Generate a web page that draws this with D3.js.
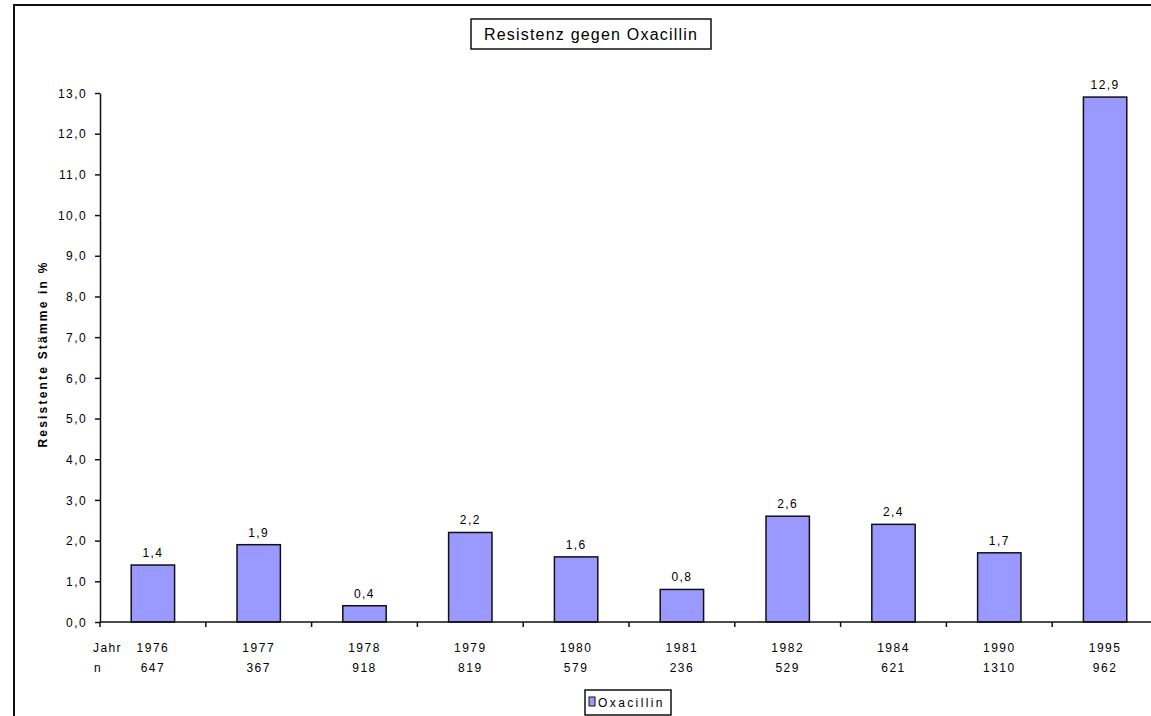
<!DOCTYPE html>
<html>
<head>
<meta charset="utf-8">
<script src="https://cdn.jsdelivr.net/npm/d3@7"></script>
<style>
  html, body { margin: 0; padding: 0; background: #fff; overflow: hidden; }
  text { font-family: "Liberation Sans", Arial, sans-serif; fill: #000; }
</style>
</head>
<body>
<svg id="chart" width="1151" height="716"></svg>
<script>
// Oxacillin resistance by year (percentage of resistant strains)
const years   = ["1976", "1977", "1978", "1979", "1980", "1981", "1982", "1984", "1990", "1995"];
const counts  = ["647", "367", "918", "819", "579", "236", "529", "621", "1310", "962"];
const values  = [1.4, 1.9, 0.4, 2.2, 1.6, 0.8, 2.6, 2.4, 1.7, 12.9];
const yTicks  = [0, 1, 2, 3, 4, 5, 6, 7, 8, 9, 10, 11, 12, 13];

const title      = "Resistenz gegen Oxacillin";
const yTitle     = "Resistente Stämme in %";
const seriesName = "Oxacillin";
const barColor   = "#9999ff";

const svg = d3.select("#chart");
const plot = { left: 100, right: 1158, top: 93, bottom: 622 };

// Outer chart frame
svg.append("rect")
  .attr("x", 14).attr("y", 5)
  .attr("width", 1200).attr("height", 800)
  .attr("fill", "none").attr("stroke", "#111").attr("stroke-width", 2);

const x = d3.scaleBand()
  .domain(years)
  .range([plot.left, plot.right])
  .paddingInner(0.59).paddingOuter(0.295);

const y = d3.scaleLinear()
  .domain([0, 13])
  .range([plot.bottom, plot.top]);

const fmt = v => d3.format(".1f")(v).replace(".", ",");

// Y axis
const yAxis = svg.append("g")
  .attr("transform", `translate(${plot.left},0)`)
  .call(d3.axisLeft(y).tickValues(yTicks).tickFormat(fmt).tickSize(5).tickPadding(8).tickSizeOuter(0));
yAxis.select(".domain").attr("stroke", "#111").attr("stroke-width", 1.5);
yAxis.selectAll(".tick line").attr("stroke", "#111").attr("stroke-width", 1.5);
yAxis.selectAll(".tick text")
  .style("font-size", "12px").style("letter-spacing", "1.4px")
  .attr("dy", "0.35em");

// Bars
svg.append("g").selectAll("rect")
  .data(values)
  .join("rect")
  .attr("x", (d, i) => x(years[i]))
  .attr("y", d => y(d))
  .attr("width", x.bandwidth())
  .attr("height", d => y(0) - y(d))
  .attr("fill", barColor)
  .attr("stroke", "#111")
  .attr("stroke-width", 1.5);

// Value labels
svg.append("g").selectAll("text")
  .data(values)
  .join("text")
  .attr("x", (d, i) => x(years[i]) + x.bandwidth() / 2)
  .attr("y", d => y(d) - 8)
  .attr("text-anchor", "middle")
  .style("font-size", "12px").style("letter-spacing", "1.4px")
  .text(d => fmt(d));

// X axis with category boundary ticks
const xLine = svg.append("g");
xLine.append("line")
  .attr("x1", plot.left).attr("x2", plot.right)
  .attr("y1", y(0)).attr("y2", y(0))
  .attr("stroke", "#111").attr("stroke-width", 1.5);
xLine.selectAll("line.tick")
  .data(years)
  .join("line")
  .attr("class", "tick")
  .attr("x1", d => x(d) - x.step() * x.paddingInner() / 2)
  .attr("x2", d => x(d) - x.step() * x.paddingInner() / 2)
  .attr("y1", y(0)).attr("y2", y(0) + 5)
  .attr("stroke", "#111").attr("stroke-width", 1.5);

// Category labels: year and sample size
const cat = svg.append("g").selectAll("g")
  .data(years)
  .join("g")
  .attr("transform", d => `translate(${x(d) + x.bandwidth() / 2},0)`);
cat.append("text")
  .attr("y", 652).attr("text-anchor", "middle")
  .style("font-size", "12px").style("letter-spacing", "1.5px")
  .text(d => d);
cat.append("text")
  .attr("y", 672).attr("text-anchor", "middle")
  .style("font-size", "12px").style("letter-spacing", "1.5px")
  .text((d, i) => counts[i]);

svg.append("text")
  .attr("x", 93).attr("y", 652)
  .style("font-size", "12px").style("letter-spacing", "1.4px")
  .text("Jahr");
svg.append("text")
  .attr("x", 94).attr("y", 672)
  .style("font-size", "12px").style("letter-spacing", "1.4px")
  .text("n");

// Y axis title
svg.append("text")
  .attr("transform", "translate(47,354) rotate(-90)")
  .attr("text-anchor", "middle")
  .style("font-size", "12px").style("font-weight", "bold").style("letter-spacing", "2.2px")
  .text(yTitle);

// Title box
svg.append("rect")
  .attr("x", 471).attr("y", 19).attr("width", 240).attr("height", 30)
  .attr("fill", "#fff").attr("stroke", "#111").attr("stroke-width", 1.5);
svg.append("text")
  .attr("x", 591).attr("y", 40)
  .attr("text-anchor", "middle")
  .style("font-size", "16px").style("letter-spacing", "1.2px")
  .text(title);

// Legend
const lg = svg.append("g");
lg.append("rect")
  .attr("x", 585).attr("y", 690).attr("width", 86).attr("height", 25)
  .attr("fill", "#fff").attr("stroke", "#111").attr("stroke-width", 1.5);
lg.append("rect")
  .attr("x", 589).attr("y", 697).attr("width", 6).attr("height", 9)
  .attr("fill", barColor).attr("stroke", "#111").attr("stroke-width", 1);
lg.append("text")
  .attr("x", 598).attr("y", 707)
  .style("font-size", "12px").style("letter-spacing", "2.4px")
  .text(seriesName);
</script>
</body>
</html>
